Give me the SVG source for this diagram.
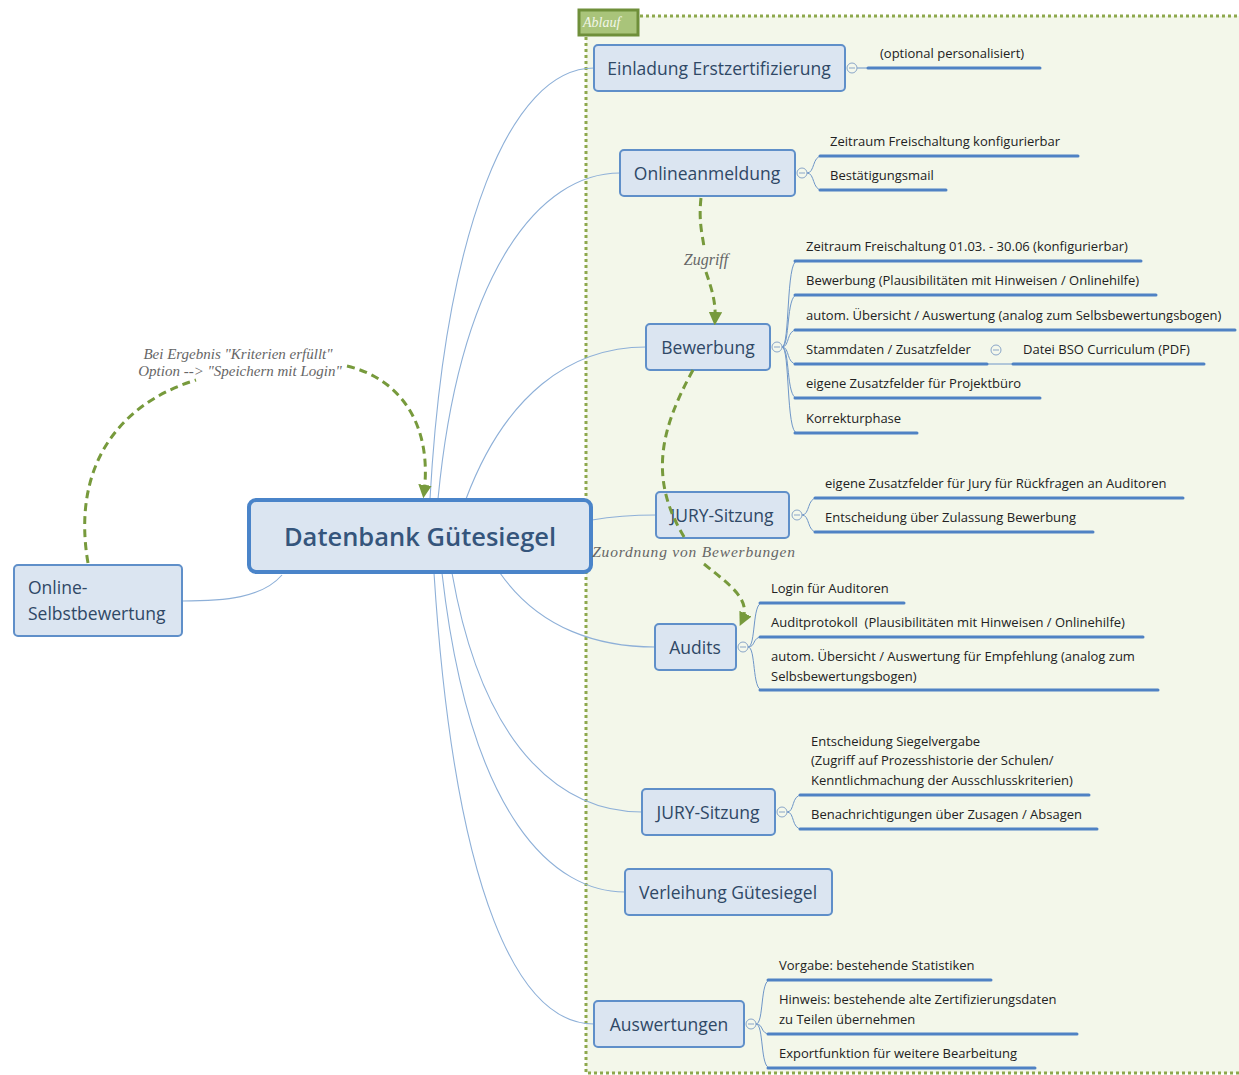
<svg xmlns="http://www.w3.org/2000/svg" width="1239" height="1075" viewBox="0 0 1239 1075">
<defs>
<style>
.topic rect{fill:#dbe5f1;stroke:#5f8fc9;stroke-width:2}
.topic text{font-family:"Open Sans","Noto Sans",sans-serif;font-size:17.5px;fill:#2f4866;text-anchor:middle}
.topic text.sub{font-family:"Open Sans","Noto Sans",sans-serif;font-size:13px;fill:#222;text-anchor:start}
.ul{stroke:#4f82c4;stroke-width:3;fill:none;stroke-linecap:round}
.br{stroke:#6e96c8;stroke-width:1;fill:none}
.conn{stroke:#8eb0d8;stroke-width:1.1;fill:none}
.cc{fill:#f4f8ec;stroke:#8aa6c8;stroke-width:1}
.rel{stroke:#779a3c;stroke-width:3;stroke-dasharray:8,5;fill:none}
.rlab{font-family:"Liberation Serif","DejaVu Serif",serif;font-style:italic;font-size:15px;fill:#666;text-anchor:middle}
</style>
<marker id="ah" viewBox="0 0 10 10" refX="6" refY="5" markerWidth="4.5" markerHeight="4.5" orient="auto" markerUnits="strokeWidth">
<path d="M0,0 L10,5 L0,10 z" fill="#779a3c"/>
</marker>
</defs>
<rect width="1239" height="1075" fill="#ffffff"/>
<g id="boundary">
<rect x="586" y="16" width="680" height="1057" fill="#f3f7ea" stroke="#8da84c" stroke-width="3" stroke-dasharray="3,3"/>
<rect x="579" y="10" width="59" height="25" fill="#a9c47a" stroke="#6f8f3a" stroke-width="3"/>
<text x="583" y="27" font-family="Liberation Serif,serif" font-style="italic" font-size="14" fill="#f2f6e8">Ablauf</text>
</g>
<g id="connectors">
<path class="conn" d="M430,499 C445,230 510,68 594,68"/>
<path class="conn" d="M438,499 C460,270 540,173 620,173"/>
<path class="conn" d="M466,499 C505,395 570,347 646,347"/>
<path class="conn" d="M592,520 C615,516 635,515 656,515"/>
<path class="conn" d="M500,573 C540,630 600,647 655,647"/>
<path class="conn" d="M452,573 C485,760 570,812 642,812"/>
<path class="conn" d="M442,573 C470,820 555,892 625,892"/>
<path class="conn" d="M434,573 C455,900 520,1024 594,1024"/>
<path class="conn" d="M282,575 C262,598 225,601 182,601"/>
<path class="br" d="M857,68 L868,68"/>
<path class="br" d="M807,173 C815,173 812,156 822,156 M807,173 C815,173 812,190 822,190"/>
<path class="br" d="M782,347 C790,347 786,261 797,261 M782,347 C790,347 786,295 797,295 M782,347 C790,347 786,330 797,330 M782,347 C790,347 786,364 797,364 M782,347 C790,347 786,398 797,398 M782,347 C790,347 786,433 797,433"/>
<path class="br" d="M987,364 L1013,364"/>
<path class="br" d="M802,515 C810,515 807,498 817,498 M802,515 C810,515 807,532 817,532"/>
<path class="br" d="M748,647 C756,647 752,603 762,603 M748,647 C756,647 752,637 762,637 M748,647 C756,647 752,690 762,690"/>
<path class="br" d="M787,812 C795,812 791,795 802,795 M787,812 C795,812 791,829 802,829"/>
<path class="br" d="M756,1024 C764,1024 760,980 770,980 M756,1024 C764,1024 760,1034 770,1034 M756,1024 C764,1024 760,1068 770,1068"/>
</g>
<g id="central">
<rect x="249" y="500" width="342" height="72" rx="7" fill="#dbe5f1" stroke="#4a84c9" stroke-width="4"/>
<text x="420" y="546" font-family="Open Sans,Noto Sans,sans-serif" font-size="25.5" font-weight="600" fill="#35557c" text-anchor="middle">Datenbank Gütesiegel</text>
</g>
<g id="online-selbstbewertung" class="topic">
<rect x="14" y="565" width="168" height="71" rx="4"/>
<text x="28" y="594" style="text-anchor:start">Online-</text>
<text x="28" y="620" style="text-anchor:start">Selbstbewertung</text>
</g>
<g id="einladung" class="topic">
<rect x="594" y="45" width="251" height="46" rx="4"/>
<text x="719" y="75">Einladung Erstzertifizierung</text>
<circle class="cc" cx="852" cy="68" r="5"/><path d="M849,68h6" stroke="#8aa6c8"/>
<text class="sub" x="880" y="58">(optional personalisiert)</text>
<path class="ul" d="M868,68H1040"/>
</g>
<g id="onlineanmeldung" class="topic">
<rect x="620" y="150" width="175" height="46" rx="4"/>
<text x="707" y="180">Onlineanmeldung</text>
<circle class="cc" cx="802" cy="173" r="5"/><path d="M799,173h6" stroke="#8aa6c8"/>
<text class="sub" x="830" y="146">Zeitraum Freischaltung konfigurierbar</text>
<path class="ul" d="M820,156H1078"/>
<text class="sub" x="830" y="180">Bestätigungsmail</text>
<path class="ul" d="M820,190H946"/>
</g>
<g id="bewerbung" class="topic">
<rect x="646" y="324" width="124" height="46" rx="4"/>
<text x="708" y="354">Bewerbung</text>
<circle class="cc" cx="777" cy="347" r="5"/><path d="M774,347h6" stroke="#8aa6c8"/>
<text class="sub" x="806" y="251">Zeitraum Freischaltung 01.03. - 30.06 (konfigurierbar)</text>
<path class="ul" d="M795,261H1141"/>
<text class="sub" x="806" y="285">Bewerbung (Plausibilitäten mit Hinweisen / Onlinehilfe)</text>
<path class="ul" d="M795,295H1156"/>
<text class="sub" x="806" y="320">autom. Übersicht / Auswertung (analog zum Selbsbewertungsbogen)</text>
<path class="ul" d="M795,330H1235"/>
<text class="sub" x="806" y="354">Stammdaten / Zusatzfelder</text>
<path class="ul" d="M795,364H987"/>
<circle class="cc" cx="996" cy="350" r="5"/><path d="M993,350h6" stroke="#8aa6c8"/>
<text class="sub" x="1023" y="354">Datei BSO Curriculum (PDF)</text>
<path class="ul" d="M1013,364H1204"/>
<text class="sub" x="806" y="388">eigene Zusatzfelder für Projektbüro</text>
<path class="ul" d="M795,398H1040"/>
<text class="sub" x="806" y="423">Korrekturphase</text>
<path class="ul" d="M795,433H917"/>
</g>
<g id="jury1" class="topic">
<rect x="656" y="492" width="133" height="46" rx="4"/>
<text x="722" y="522">JURY-Sitzung</text>
<circle class="cc" cx="797" cy="515" r="5"/><path d="M794,515h6" stroke="#8aa6c8"/>
<text class="sub" x="825" y="488">eigene Zusatzfelder für Jury für Rückfragen an Auditoren</text>
<path class="ul" d="M815,498H1183"/>
<text class="sub" x="825" y="522">Entscheidung über Zulassung Bewerbung</text>
<path class="ul" d="M815,532H1093"/>
</g>
<g id="audits" class="topic">
<rect x="655" y="624" width="81" height="46" rx="4"/>
<text x="695" y="654">Audits</text>
<circle class="cc" cx="743" cy="647" r="5"/><path d="M740,647h6" stroke="#8aa6c8"/>
<text class="sub" x="771" y="593">Login für Auditoren</text>
<path class="ul" d="M760,603H904"/>
<text class="sub" x="771" y="627" xml:space="preserve">Auditprotokoll  (Plausibilitäten mit Hinweisen / Onlinehilfe)</text>
<path class="ul" d="M760,637H1143"/>
<text class="sub" x="771" y="661">autom. Übersicht / Auswertung für Empfehlung (analog zum</text>
<text class="sub" x="771" y="681">Selbsbewertungsbogen)</text>
<path class="ul" d="M760,690H1158"/>
</g>
<g id="jury2" class="topic">
<rect x="642" y="789" width="133" height="46" rx="4"/>
<text x="708" y="819">JURY-Sitzung</text>
<circle class="cc" cx="782" cy="812" r="5"/><path d="M779,812h6" stroke="#8aa6c8"/>
<text class="sub" x="811" y="746">Entscheidung Siegelvergabe</text>
<text class="sub" x="811" y="765">(Zugriff auf Prozesshistorie der Schulen/</text>
<text class="sub" x="811" y="785">Kenntlichmachung der Ausschlusskriterien)</text>
<path class="ul" d="M800,795H1089"/>
<text class="sub" x="811" y="819">Benachrichtigungen über Zusagen / Absagen</text>
<path class="ul" d="M800,829H1097"/>
</g>
<g id="verleihung" class="topic">
<rect x="625" y="869" width="207" height="46" rx="4"/>
<text x="728" y="899">Verleihung Gütesiegel</text>
</g>
<g id="auswertungen" class="topic">
<rect x="594" y="1001" width="150" height="46" rx="4"/>
<text x="669" y="1031">Auswertungen</text>
<circle class="cc" cx="751" cy="1024" r="5"/><path d="M748,1024h6" stroke="#8aa6c8"/>
<text class="sub" x="779" y="970">Vorgabe: bestehende Statistiken</text>
<path class="ul" d="M768,980H991"/>
<text class="sub" x="779" y="1004">Hinweis: bestehende alte Zertifizierungsdaten</text>
<text class="sub" x="779" y="1024">zu Teilen übernehmen</text>
<path class="ul" d="M768,1034H1077"/>
<text class="sub" x="779" y="1058">Exportfunktion für weitere Bearbeitung</text>
<path class="ul" d="M768,1068H1035"/>
</g>
<g id="relationships">
<path class="rel" d="M88,563 C72,470 115,405 196,380"/>
<path class="rel" d="M347,366 C405,380 432,430 424,493" marker-end="url(#ah)"/>
<path class="rel" d="M701,198 C698,225 704,240 704,249"/>
<path class="rel" d="M706,272 C712,290 716,302 715,320" marker-end="url(#ah)"/>
<path class="rel" d="M693,370 C660,430 648,480 686,540"/>
<path class="rel" d="M704,564 C730,585 752,600 742,621" marker-end="url(#ah)"/>
<text class="rlab" x="238" y="359">Bei Ergebnis "Kriterien erfüllt"</text>
<text class="rlab" x="240" y="376">Option --&gt; "Speichern mit Login"</text>
<text class="rlab" x="706" y="265" style="font-size:16px">Zugriff</text>
<text class="rlab" x="694" y="557" style="font-size:15.5px;letter-spacing:0.8px">Zuordnung von Bewerbungen</text>
</g>
</svg>
